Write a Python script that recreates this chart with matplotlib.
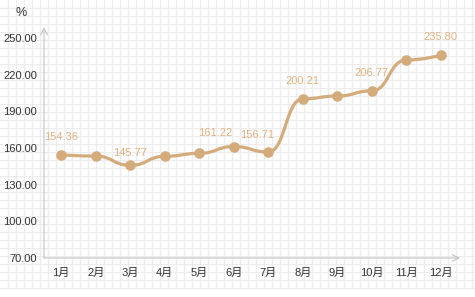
import matplotlib
matplotlib.use('Agg')
import matplotlib.pyplot as plt
from matplotlib.path import Path
from matplotlib.patches import PathPatch
import numpy as np

plt.rcParams['font.family'] = ['Liberation Sans', 'Noto Sans CJK SC']

# data
months = ['1月', '2月', '3月', '4月', '5月', '6月', '7月', '8月', '9月', '10月', '11月', '12月']
values = [154.36, 153.4, 145.77, 153.2, 155.6, 161.22, 156.71, 200.21, 202.5, 206.77, 232.0, 235.80]
labelled = [0, 2, 5, 6, 7, 9, 11]
yticks = [70, 100, 130, 160, 190, 220, 250]

line_color = '#d4ab7b'
label_color = '#e0b283'
axis_color = '#c4c4c4'

W, H = 475, 297
fig = plt.figure(figsize=(W / 100, H / 100), dpi=100)

# graph-paper background
bg = fig.add_axes([0, 0, 1, 1], zorder=-1)
bg.set_xlim(0, W)
bg.set_ylim(H, 0)
bg.axis('off')
for gx in np.arange(7.5, W, 8):
    bg.plot([gx, gx], [0, 287.5], color='#ececec', lw=0.9)
for gy in np.arange(7.5, 288, 8):
    bg.plot([0, W], [gy, gy], color='#ececec', lw=0.9)

# plot area in pixels: x 44..458, y 38..258
left, right, top, bottom = 44, 458, 38, 258
ax = fig.add_axes([left / W, 1 - bottom / H, (right - left) / W, (bottom - top) / H])
ax.patch.set_alpha(0)
ax.set_xlim(-0.5, 11.5)
ax.set_ylim(70, 250)
for s in ax.spines.values():
    s.set_visible(False)

# axes with arrow heads
ax.annotate('', xy=(0, 1.05), xytext=(0, 0), xycoords='axes fraction',
            arrowprops=dict(arrowstyle='->', color=axis_color, lw=0.8,
                            shrinkA=0, shrinkB=0, mutation_scale=12))
ax.annotate('', xy=(1.005, 0), xytext=(0, 0), xycoords='axes fraction',
            arrowprops=dict(arrowstyle='->', color=axis_color, lw=0.8,
                            shrinkA=0, shrinkB=0, mutation_scale=12))

ax.set_xticks(range(len(months)))
ax.set_xticklabels(months)
ax.set_yticks(yticks)
ax.set_yticklabels([f'{v:.2f}' for v in yticks])
ax.tick_params(length=0, labelsize=8, colors='#333333')
ax.tick_params(axis='x', pad=7)
ax.tick_params(axis='y', pad=5)

fig.text(21 / W, 1 - 13 / H, '%', fontsize=9, color='#333333', ha='center', va='center')

# smooth curve: bezier with horizontal tangents at each point (monotone in x)
smooth = 0.5
n = len(values)
verts = [(0, values[0])]
codes = [Path.MOVETO]
for i in range(n - 1):
    c0 = (i + smooth, values[i]) if i > 0 else (i, values[i])
    c1 = (i + 1 - smooth, values[i + 1]) if i + 1 < n - 1 else (i + 1, values[i + 1])
    verts += [c0, c1, (i + 1, values[i + 1])]
    codes += [Path.CURVE4] * 3
ax.add_patch(PathPatch(Path(verts, codes), fill=False, edgecolor=line_color,
                       lw=2.3, capstyle='round', joinstyle='round', zorder=3))
ax.scatter(range(n), values, s=58, color=line_color, zorder=4, linewidths=0)

# data labels (offsets in points)
offsets = {0: (0, 13), 2: (0, 9), 5: (-13, 9.5), 6: (-8, 12), 7: (0, 13), 9: (0, 13), 11: (0, 13)}
for i in labelled:
    ax.annotate(f'{values[i]:.2f}', (i, values[i]), xytext=offsets[i], textcoords='offset points',
                ha='center', va='center', fontsize=8, color=label_color, zorder=5)

fig.savefig('out.png', dpi=100)
